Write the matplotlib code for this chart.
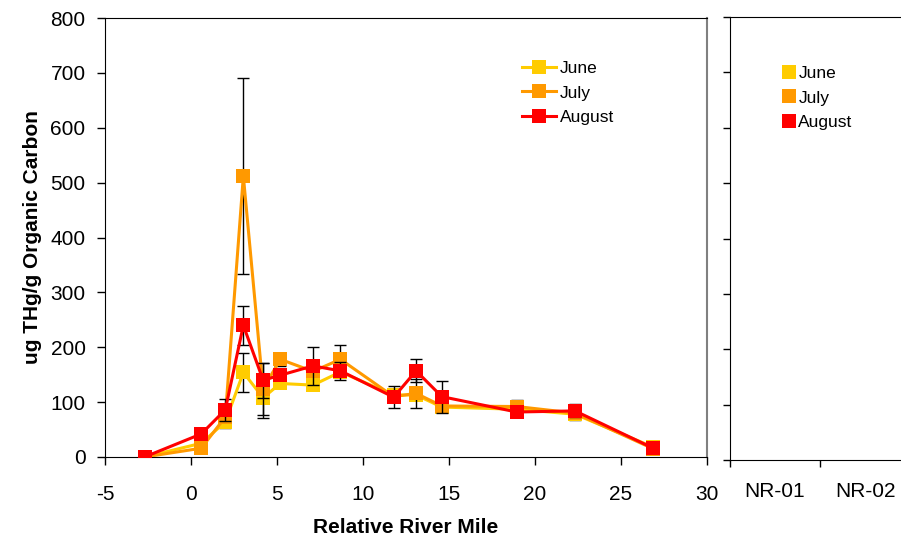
import matplotlib.pyplot as plt
from matplotlib.lines import Line2D

plt.rcParams['font.family'] = ['Liberation Sans', 'DejaVu Sans']
plt.rcParams['axes.unicode_minus'] = False

# Sampling positions along the river (relative river mile)
river_mile = [-2.7, 0.6, 2.0, 3.05, 4.2, 5.2, 7.1, 8.7, 11.8, 13.1, 14.6, 18.95, 22.35, 26.9]

# THg normalised to organic carbon, by month
june = [0, 25, 64, 154, 108, 134, 131, 155, 113, 113, 91, 87, 78, 18]
july = [0, 16, 73, 512, 124, 178, 156, 178, 110, 116, 93, 92, 80, 15]
august = [0, 42, 86, 240, 140, 149, 166, 157, 109, 157, 110, 82, 84, 16]

# standard deviations (0 = no bar)
june_err = [0, 0, 11, 35, 37, 0, 0, 0, 0, 0, 0, 0, 10, 0]
july_err = [0, 0, 0, 178, 48, 12, 0, 27, 0, 26, 0, 11, 0, 0]
august_err = [0, 0, 20, 35, 32, 0, 35, 17, 20, 21, 29, 0, 12, 0]

months = ['June', 'July', 'August']
colors = ['#FFCC00', '#FF9900', '#FF0000']
ref_sites = ['NR-01', 'NR-02']

fig = plt.figure(figsize=(9.01, 5.4), dpi=100)
ax = fig.add_axes([105 / 901, 83 / 540, 601.5 / 901, 439 / 540])

series = [(june, june_err), (july, july_err), (august, august_err)]
for i, (vals, errs) in enumerate(series):
    pts = [(x, v, e) for x, v, e in zip(river_mile, vals, errs) if e > 0]
    ax.errorbar([p[0] for p in pts], [p[1] for p in pts], yerr=[p[2] for p in pts],
                fmt='none', ecolor='black', elinewidth=1, capsize=4, capthick=1,
                zorder=2 + i * 2)
    ax.plot(river_mile, vals, color=colors[i], lw=2.2, marker='s', markersize=9.5,
            markeredgewidth=0, label=months[i], zorder=3 + i * 2)

ax.set_xlim(-5, 30)
ax.set_ylim(0, 800)
ax.set_xticks(range(-5, 31, 5))
ax.set_yticks(range(0, 801, 100))
ax.tick_params(axis='both', direction='out', length=6, width=1, labelsize=15,
               right=False, top=False)
ax.tick_params(axis='x', pad=14)
ax.tick_params(axis='y', pad=8)
ax.spines['right'].set_color('#808080')
ax.spines['right'].set_linewidth(1.5)
ax.set_xlabel('Relative River Mile', fontsize=15, fontweight='bold', labelpad=10)
ax.set_ylabel('ug THg/g Organic Carbon', fontsize=15, fontweight='bold', labelpad=6)

ax.legend(loc='upper left', bbox_to_anchor=(513 / 901, 1 - 52 / 540),
          bbox_transform=fig.transFigure, frameon=False, fontsize=12.5,
          handlelength=2.0, handletextpad=0.2, labelspacing=0.55, borderpad=0)

# reference sites panel (no data plotted)
ax2 = fig.add_axes([730 / 901, 80 / 540, 180 / 901, 443 / 540])
ax2.set_xlim(0, 2)
ax2.set_ylim(0, 800)
ax2.set_yticks(range(0, 801, 100))
ax2.set_yticklabels([])
ax2.set_xticks([0, 1, 2])
ax2.set_xticklabels([])
ax2.set_xticks([0.5, 1.5], minor=True)
ax2.set_xticklabels(ref_sites, minor=True)
ax2.tick_params(axis='both', which='major', direction='out', length=5, width=1)
ax2.tick_params(axis='x', which='minor', length=0, labelsize=15, pad=16)
ax2.spines['right'].set_visible(False)

handles = [Line2D([], [], ls='none', marker='s', markersize=9.5, markeredgewidth=0,
                  color=c) for c in colors]
ax2.legend(handles, months, loc='upper left', bbox_to_anchor=(774 / 901, 1 - 57 / 540),
           bbox_transform=fig.transFigure, frameon=False, fontsize=12.5,
           handlelength=0.7, handletextpad=0.2, labelspacing=0.55, borderpad=0)

fig.savefig('out.png', dpi=100)
